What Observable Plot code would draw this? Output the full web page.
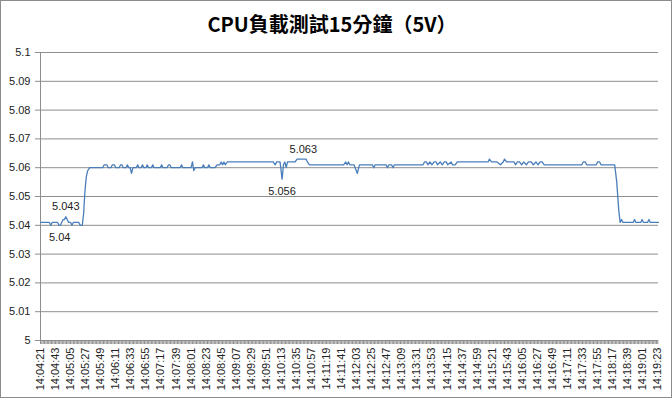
<!DOCTYPE html>
<html><head><meta charset="utf-8">
<script src="https://cdn.jsdelivr.net/npm/d3@7"></script>
<script src="https://cdn.jsdelivr.net/npm/@observablehq/plot@0.6"></script>
<style>
body{margin:0;background:#fff;}
#wrap{position:relative;width:672px;height:398px;overflow:hidden;background:#fff;}
#frame{position:absolute;left:0;top:0;width:670px;height:396px;border:1px solid #8c8c8c;pointer-events:none;}
#title{position:absolute;left:0;width:664px;top:10px;text-align:center;font:bold 20px "Noto Sans CJK TC";color:#000;line-height:28px;}
#chart{position:absolute;left:0;top:0;}
</style></head><body>
<div id="wrap"><div id="chart"></div><div id="title">CPU負載測試15分鐘（5V）</div><div id="frame"></div></div>
<script>
const startTime = "14:04:21";
const timeLabels = ["14:04:21","14:04:43","14:05:05","14:05:27","14:05:49","14:06:11","14:06:33","14:06:55","14:07:17","14:07:39","14:08:01","14:08:23","14:08:45","14:09:07","14:09:29","14:09:51","14:10:13","14:10:35","14:10:57","14:11:19","14:11:41","14:12:03","14:12:25","14:12:47","14:13:09","14:13:31","14:13:53","14:14:15","14:14:37","14:14:59","14:15:21","14:15:43","14:16:05","14:16:27","14:16:49","14:17:11","14:17:33","14:17:55","14:18:17","14:18:39","14:19:01","14:19:23"];
// seconds after 14:04:21
const sampleSeconds = [0,13,15,17,25,27,29,31,33,35,37,39,41,44,46,48,56,58,61,63,65,67,69,72,
91,93,97,99,103,105,108,110,115,117,119,121,125,127,129,131,133,135,140,142,144,147,149,151,154,156,158,162,164,166,175,177,179,185,187,189,191,204,206,208,220,222,224,226,236,238,240,244,246,248,255,258,262,264,266,268,270,273,
340,343,345,350,353,355,357,359,361,372,375,388,390,393,443,446,448,450,452,458,463,466,485,487,489,505,507,509,513,515,517,
559,561,564,566,569,572,575,578,580,584,587,590,593,595,600,602,606,609,654,656,659,667,672,676,678,681,692,694,697,700,703,706,710,713,717,720,724,727,730,733,736,791,793,796,798,812,814,817,819,839,842,845,847,849,851,866,868,870,877,879,881,887,889,891,903];
const voltage = [5.041,5.041,5.040,5.041,5.041,5.040,5.040,5.041,5.042,5.042,5.043,5.042,5.041,5.041,5.040,5.041,5.041,5.040,5.040,5.044,5.052,5.057,5.059,5.060,
5.060,5.061,5.061,5.060,5.060,5.061,5.061,5.060,5.060,5.061,5.061,5.060,5.060,5.061,5.060,5.060,5.058,5.060,5.060,5.061,5.060,5.060,5.061,5.060,5.060,5.061,5.060,5.060,5.061,5.060,5.060,5.061,5.060,5.060,5.061,5.061,5.060,5.060,5.061,5.060,5.060,5.062,5.059,5.060,5.060,5.061,5.060,5.060,5.061,5.060,5.060,5.061,5.061,5.062,5.061,5.062,5.061,5.062,
5.062,5.061,5.062,5.062,5.056,5.061,5.062,5.060,5.062,5.062,5.063,5.063,5.062,5.061,5.061,5.062,5.061,5.062,5.061,5.061,5.058,5.061,5.061,5.060,5.061,5.061,5.060,5.061,5.061,5.060,5.061,
5.061,5.062,5.062,5.061,5.062,5.061,5.062,5.062,5.061,5.062,5.061,5.062,5.062,5.061,5.062,5.061,5.061,5.062,5.062,5.063,5.062,5.062,5.061,5.062,5.063,5.062,5.062,5.061,5.062,5.062,5.061,5.062,5.061,5.062,5.062,5.061,5.062,5.061,5.062,5.062,5.061,5.061,5.062,5.062,5.061,5.061,5.062,5.062,5.061,5.061,5.055,5.045,5.041,5.042,5.041,5.041,5.042,5.041,5.041,5.042,5.041,5.041,5.042,5.041,5.041];
const yTicks = [5, 5.01, 5.02, 5.03, 5.04, 5.05, 5.06, 5.07, 5.08, 5.09, 5.1];
const labelSeconds = [28, 37, 353, 384];
const labelValues = [5.040, 5.043, 5.056, 5.063];
const labelText = ["5.04", "5.043", "5.056", "5.063"];
const labelBelow = [true, false, true, false];

const toSec = s => { const [h, m, c] = s.split(":").map(Number); return h * 3600 + m * 60 + c; };
const t0 = toSec(startTime);
const tickPos = timeLabels.map(s => toSec(s) - t0);
const tickName = new Map(tickPos.map((p, i) => [p, timeLabels[i]]));
const data = sampleSeconds.map((s, i) => ({t: s, v: voltage[i]}));
const labels = labelText.map((txt, i) => ({t: labelSeconds[i], v: labelValues[i], txt, below: labelBelow[i]}));
const minor = d3.range(0, 904, 2);

const chart = Plot.plot({
  width: 672, height: 398,
  marginLeft: 40, marginRight: 14, marginTop: 52, marginBottom: 58,
  x: {domain: [0, 903]},
  y: {domain: [5, 5.1]},
  style: {fontFamily: "'Liberation Sans', Arial, sans-serif", fontSize: "11px", color: "#222", background: "transparent"},
  marks: [
    Plot.gridY(yTicks, {stroke: "#8e8e8e", strokeOpacity: 1}),
    Plot.ruleX([0], {stroke: "#8e8e8e"}),
    Plot.axisY(yTicks, {tickSize: 5, tickPadding: 5, stroke: "#8e8e8e", tickFormat: d => String(d), label: null}),
    Plot.axisX(minor, {tickSize: 4, stroke: "#8e8e8e", tickFormat: () => "", label: null}),
    Plot.axisX(tickPos, {tickSize: 0, tickPadding: 7, tickRotate: -90, tickFormat: d => tickName.get(d), label: null}),
    Plot.line(data, {x: "t", y: "v", stroke: "#4a7ebb", strokeWidth: 1.3}),
    Plot.text(labels.filter(d => d.below), {x: "t", y: "v", text: "txt", dy: 12, fontSize: 11, fill: "#222"}),
    Plot.text(labels.filter(d => !d.below), {x: "t", y: "v", text: "txt", dy: -10, fontSize: 11, fill: "#222"})
  ]
});
document.getElementById("chart").appendChild(chart);
</script>
</body></html>
